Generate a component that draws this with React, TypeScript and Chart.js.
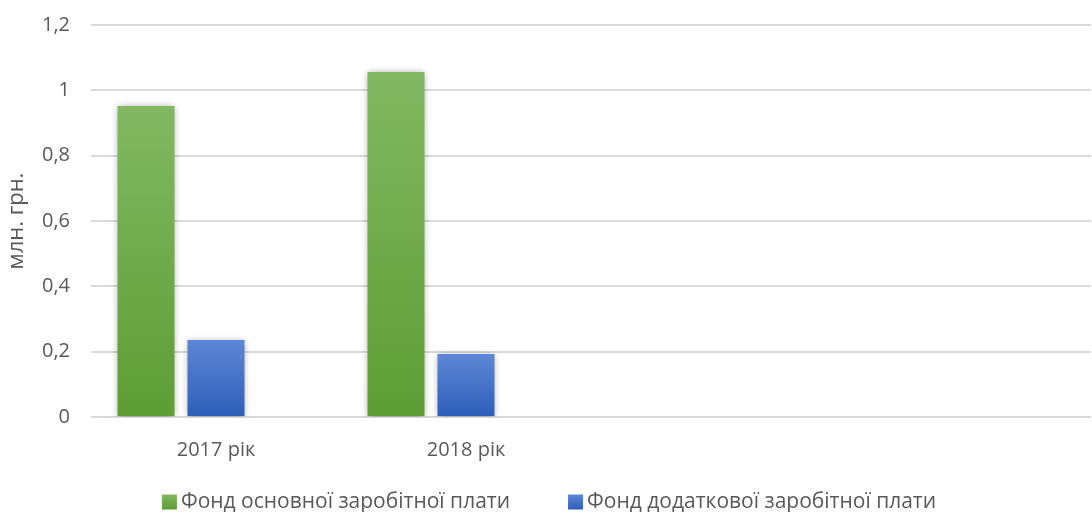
import { useEffect, useRef } from "react";
import { Chart, registerables } from "chart.js";

Chart.register(...registerables);

const categories = ["2017 рік", "2018 рік", "", ""];
const basicFund = [0.952, 1.056, null, null];
const extraFund = [0.236, 0.193, null, null];
const emptySeries = [null, null, null, null];
const seriesNames = ["Фонд основної заробітної плати", "Фонд додаткової заробітної плати"];
const yTickLabels = ["0", "0,2", "0,4", "0,6", "0,8", "1", "1,2"];
const yTitle = "млн. грн.";

const FONT_FAMILY = "'Open Sans', sans-serif";
const TEXT = "#595959";
const greenStops = ["#82b862", "#5e9d34"];
const blueStops = ["#5e87d5", "#2e5eb9"];

function gradientFill(stops: string[]) {
  return (ctx: any) => {
    const chart = ctx.chart;
    if (ctx.type !== "data" || ctx.raw == null) return stops[1];
    const y = chart.scales && chart.scales.y;
    if (!y || !chart.chartArea) return stops[1];
    const top = y.getPixelForValue(ctx.raw);
    const bottom = y.getPixelForValue(0);
    if (!isFinite(top) || !isFinite(bottom) || bottom - top < 1) return stops[1];
    const g = chart.ctx.createLinearGradient(0, top, 0, bottom);
    g.addColorStop(0, stops[0]);
    g.addColorStop(1, stops[1]);
    return g;
  };
}

const shadowPlugin = {
  id: "barShadow",
  beforeDatasetDraw(chart: any) {
    const c = chart.ctx;
    c.save();
    c.shadowColor = "rgba(0,0,0,0.38)";
    c.shadowBlur = 7;
    c.shadowOffsetX = 0;
    c.shadowOffsetY = 1;
  },
  afterDatasetDraw(chart: any) {
    chart.ctx.restore();
  },
};

const legendPlugin = {
  id: "customLegend",
  afterDraw(chart: any) {
    const c = chart.ctx;
    const ds = chart.data.datasets.slice(0, 2);
    const stopsList = [greenStops, blueStops];
    c.save();
    c.font = `21px ${FONT_FAMILY}`;
    c.textBaseline = "middle";
    c.textAlign = "left";
    const box = 15;
    const gapBoxText = 4;
    const gapItems = 58;
    const widths = ds.map((d: any) => c.measureText(d.label).width);
    const total =
      widths.reduce((s: number, w: number) => s + box + gapBoxText + w, 0) + gapItems * (ds.length - 1);
    let x = 549 - total / 2;
    const yc = chart.height - 10;
    ds.forEach((d: any, i: number) => {
      const stops = stopsList[i];
      const g = c.createLinearGradient(0, yc - box / 2, 0, yc + box / 2);
      g.addColorStop(0, stops[0]);
      g.addColorStop(1, stops[1]);
      c.fillStyle = g;
      c.fillRect(x, yc - box / 2, box, box);
      x += box + gapBoxText;
      c.fillStyle = TEXT;
      c.fillText(d.label, x, yc);
      x += widths[i] + gapItems;
    });
    c.restore();
  },
};

export default function App() {
  const canvasRef = useRef<HTMLCanvasElement | null>(null);

  useEffect(() => {
    document.body.style.margin = "0";
    let chart: Chart | null = null;
    let cancelled = false;
    const font = { family: FONT_FAMILY, size: 20 };

    const build = () => {
      if (cancelled || !canvasRef.current) return;
      chart = new Chart(canvasRef.current, {
        type: "bar",
        data: {
          labels: categories,
          datasets: [
            { label: seriesNames[0], data: basicFund, backgroundColor: gradientFill(greenStops) },
            { label: seriesNames[1], data: extraFund, backgroundColor: gradientFill(blueStops) },
            { label: "", data: emptySeries, backgroundColor: "#a5a5a5" },
          ],
        },
        options: {
          responsive: false,
          animation: false,
          layout: { padding: { top: 25, right: 1, bottom: 45, left: 0 } },
          datasets: { bar: { categoryPercentage: 0.84, barPercentage: 0.814 } },
          plugins: {
            legend: { display: false },
            tooltip: { enabled: false },
          },
          scales: {
            x: {
              grid: { display: false, drawTicks: false },
              border: { display: false },
              ticks: { font, color: TEXT, padding: 21, maxRotation: 0, autoSkip: false },
              afterFit: (s: any) => {
                s.height = 50;
                s.paddingLeft = 0;
                s.paddingRight = 0;
              },
            },
            y: {
              min: 0,
              max: 1.2,
              ticks: {
                stepSize: 0.2,
                padding: 21,
                font,
                color: TEXT,
                callback: (_v: any, i: number) => yTickLabels[i],
              },
              grid: { color: "#d9d9d9", lineWidth: 2, drawTicks: false },
              border: { display: false },
              title: {
                display: true,
                text: yTitle,
                font: { family: FONT_FAMILY, size: 22 },
                color: TEXT,
                padding: { top: 4, bottom: 0 },
              },
              afterFit: (s: any) => {
                s.width = 91;
                s.paddingTop = 0;
                s.paddingBottom = 0;
              },
            },
          },
        },
        plugins: [shadowPlugin, legendPlugin],
      } as any);
    };

    const fontsApi = (document as any).fonts;
    if (fontsApi && fontsApi.load) {
      Promise.all([fontsApi.load(`20px ${FONT_FAMILY}`), fontsApi.load(`22px ${FONT_FAMILY}`)]).then(build, build);
    } else {
      build();
    }

    return () => {
      cancelled = true;
      if (chart) chart.destroy();
    };
  }, []);

  return (
    <div style={{ width: 1092, height: 512, position: "relative" }}>
      <canvas ref={canvasRef} width={1092} height={512} style={{ display: "block" }} />
    </div>
  );
}
